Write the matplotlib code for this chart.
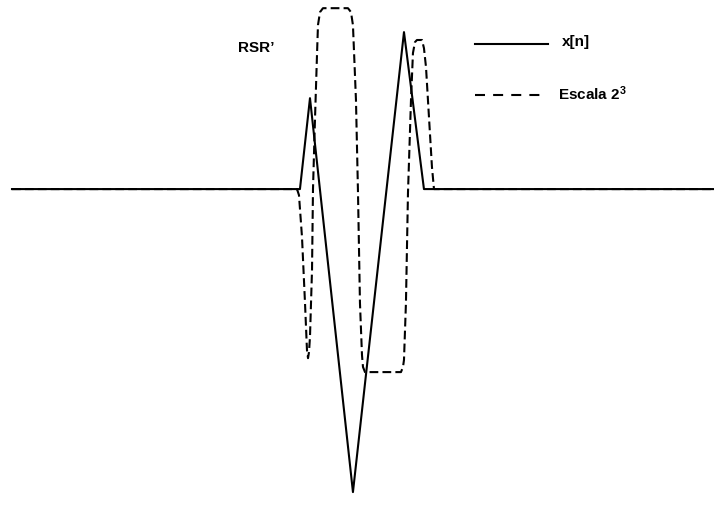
import matplotlib
matplotlib.use("Agg")
from matplotlib import pyplot as plt
from matplotlib.lines import Line2D

# fonts: arial-like bold for all the labels
plt.rcParams["font.family"] = ["Liberation Sans", "DejaVu Sans"]
plt.rcParams["mathtext.fontset"] = "custom"
plt.rcParams["mathtext.rm"] = "Liberation Sans:bold"
plt.rcParams["mathtext.it"] = "Liberation Sans:bold"
plt.rcParams["mathtext.bf"] = "Liberation Sans:bold"

# signal x[n] (time in arbitrary units 0..100, amplitude normalised to the trough)
X_T = [0, 41.08, 42.51, 48.64, 55.92, 58.77, 100]
X_A = [0, 0, 0.30, -1.0, 0.518, 0, 0]

# wavelet transform at scale 2^3
W_T = [0, 40.66, 40.94, 41.37, 41.80, 42.08, 42.23, 42.37, 42.51, 42.80, 42.94,
       43.22, 43.51, 43.65, 43.94, 44.36, 47.93, 48.36, 48.64, 49.07, 49.36,
       49.64, 49.93, 50.07, 50.36, 55.49, 55.78, 55.92, 56.20, 56.49, 56.92,
       57.20, 57.49, 57.77, 58.49, 58.77, 59.06, 59.34, 59.91, 60.20, 100]
W_A = [0, 0, -0.02, -0.158, -0.376, -0.531, -0.558, -0.538, -0.488, -0.267, 0,
       0.228, 0.442, 0.541, 0.584, 0.597, 0.597, 0.584, 0.541, 0.294, -0.013,
       -0.376, -0.548, -0.587, -0.604, -0.604, -0.587, -0.564, -0.376, -0.013, 0.294,
       0.449, 0.485, 0.492, 0.492, 0.465, 0.403, 0.294, 0.073, 0, 0]

LABELS = ["x[n]", "Escala 2$^3$"]
TITLE = "RSR\u2019"

W, H = 715, 523
fig = plt.figure(figsize=(W / 100, H / 100), dpi=100)
ax = fig.add_axes([0, 0, 1, 1])
ax.set_axis_off()

ax.plot(W_T, W_A, color="black", lw=1.5, linestyle=(0, (4.2, 2.0)))
ax.plot(X_T, X_A, color="black", lw=1.5)

ax.set_xlim(-1.712, 100.29)
ax.set_ylim(-1.102, 0.624)

# hand-made legend (pixel positions converted to figure fractions)
def fx(px):
    return px / W

def fy(py):
    return 1 - py / H

fig.add_artist(Line2D([fx(475), fx(548)], [fy(44), fy(44)], color="black", lw=1.5))
fig.add_artist(Line2D([fx(475), fx(542)], [fy(95), fy(95)], color="black", lw=1.5,
                      linestyle=(0, (4.8, 3.9))))
fig.text(fx(562), fy(46), LABELS[0], fontsize=11, fontweight="bold", va="baseline")
fig.text(fx(558), fy(100), LABELS[1], fontsize=11, fontweight="bold", va="baseline")

fig.text(fx(238), fy(52), TITLE, fontsize=11, fontweight="bold", va="baseline")

fig.savefig("out.png", dpi=100)
